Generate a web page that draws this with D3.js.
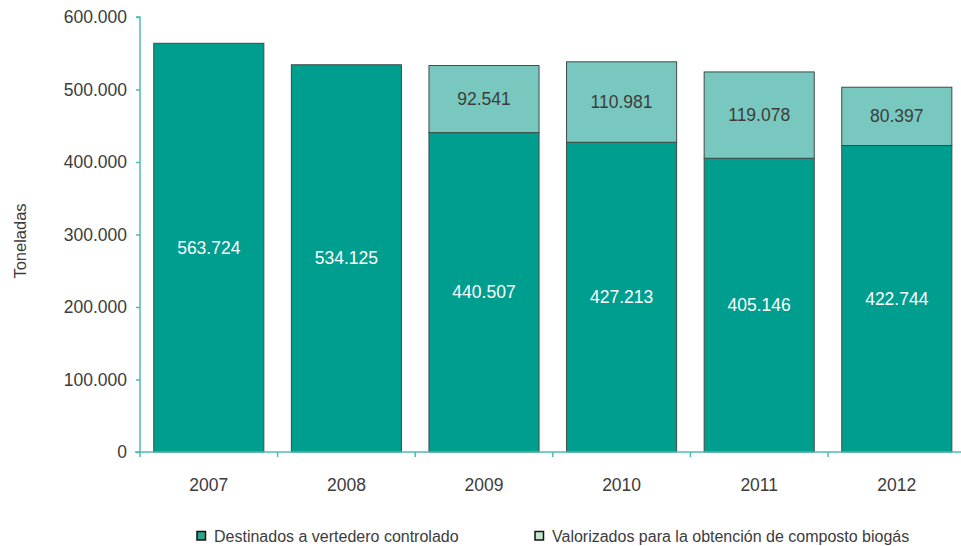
<!DOCTYPE html>
<html><head><meta charset="utf-8">
<script src="https://cdn.jsdelivr.net/npm/d3@7"></script>
<style>
body{margin:0;background:#fff;}
text{font-family:"Liberation Sans",Arial,sans-serif;}
</style></head>
<body>
<svg id="chart" width="961" height="546"></svg>
<script>
const years = ["2007","2008","2009","2010","2011","2012"];
const vertedero = [563724, 534125, 440507, 427213, 405146, 422744];
const valorizados = [0, 0, 92541, 110981, 119078, 80397];
const yTicks = [0,100000,200000,300000,400000,500000,600000];
const seriesNames = ["Destinados a vertedero controlado","Valorizados para la obtención de composto biogás"];

const fmt = v => d3.format(",")(v).replace(/,/g,".");
const svg = d3.select("#chart");
const x0 = 140, yTop = 17, yBot = 452;
const x = d3.scaleBand().domain(years).range([x0, x0 + 6*137.6]).paddingInner(0.2).paddingOuter(0.1);
const y = d3.scaleLinear().domain([0,600000]).range([yBot, yTop]);
const axisColor = "#4dbdb2";
const textColor = "#3c3c3c";
const fs = 17.5;

// bars
const g = svg.append("g");
years.forEach((yr,i)=>{
  const v1 = vertedero[i], v2 = valorizados[i];
  g.append("rect").attr("x", x(yr)).attr("width", x.bandwidth())
    .attr("y", y(v1)).attr("height", y(0)-y(v1))
    .attr("fill","#009e8f").attr("stroke","#3d4b48").attr("stroke-width",1);
  g.append("text").attr("x", x(yr)+x.bandwidth()/2).attr("y", y(v1/2)+6)
    .attr("text-anchor","middle").attr("font-size",fs).attr("fill","#fff").text(fmt(v1));
  if (v2>0){
    g.append("rect").attr("x", x(yr)).attr("width", x.bandwidth())
      .attr("y", y(v1+v2)).attr("height", y(v1)-y(v1+v2))
      .attr("fill","#79c8bf").attr("stroke","#3d4b48").attr("stroke-width",1);
    g.append("text").attr("x", x(yr)+x.bandwidth()/2).attr("y", y(v1+v2/2)+6)
      .attr("text-anchor","middle").attr("font-size",fs).attr("fill",textColor).text(fmt(v2));
  }
});

// y axis
const ya = svg.append("g").attr("transform",`translate(${x0},0)`)
  .call(d3.axisLeft(y).tickValues(yTicks).tickSize(4).tickPadding(9).tickFormat(fmt));
ya.attr("font-size",fs).attr("font-family","Liberation Sans, Arial, sans-serif");
ya.select(".domain").attr("stroke",axisColor).attr("stroke-width",1.5).attr("d",`M-4,${yTop}H0V${yBot}`);
ya.selectAll(".tick line").attr("stroke",axisColor).attr("stroke-width",1.5);
ya.selectAll(".tick text").attr("fill",textColor);

// x axis
const xa = svg.append("g").attr("transform",`translate(0,${yBot})`)
  .call(d3.axisBottom(x).tickSize(0).tickPadding(27));
xa.attr("font-size",fs).attr("font-family","Liberation Sans, Arial, sans-serif");
xa.select(".domain").attr("stroke",axisColor).attr("stroke-width",1.5).attr("d",`M${x0-5},0H961`);
xa.selectAll(".tick text").attr("fill",textColor);
// band separator ticks
years.forEach((yr,i)=>{
  const bx = x0 + i*x.step();
  svg.append("line").attr("x1",bx).attr("x2",bx).attr("y1",yBot).attr("y2",yBot+5)
    .attr("stroke",axisColor).attr("stroke-width",1.5);
});

// y label
svg.append("text").attr("transform","translate(26,241) rotate(-90)")
  .attr("text-anchor","middle").attr("font-size",16.5).attr("fill",textColor).text("Toneladas");

// legend
const legendColors = ["#2ea58b","#c6e6cc"];
const lx = [197, 535];
seriesNames.forEach((n,i)=>{
  svg.append("rect").attr("x",lx[i]).attr("y",531.5).attr("width",8.5).attr("height",8.5)
    .attr("fill",legendColors[i]).attr("stroke","#111").attr("stroke-width",1.5);
  svg.append("text").attr("x",lx[i]+17).attr("y",542).attr("font-size",16).attr("fill",textColor).text(n);
});
</script>
</body></html>
